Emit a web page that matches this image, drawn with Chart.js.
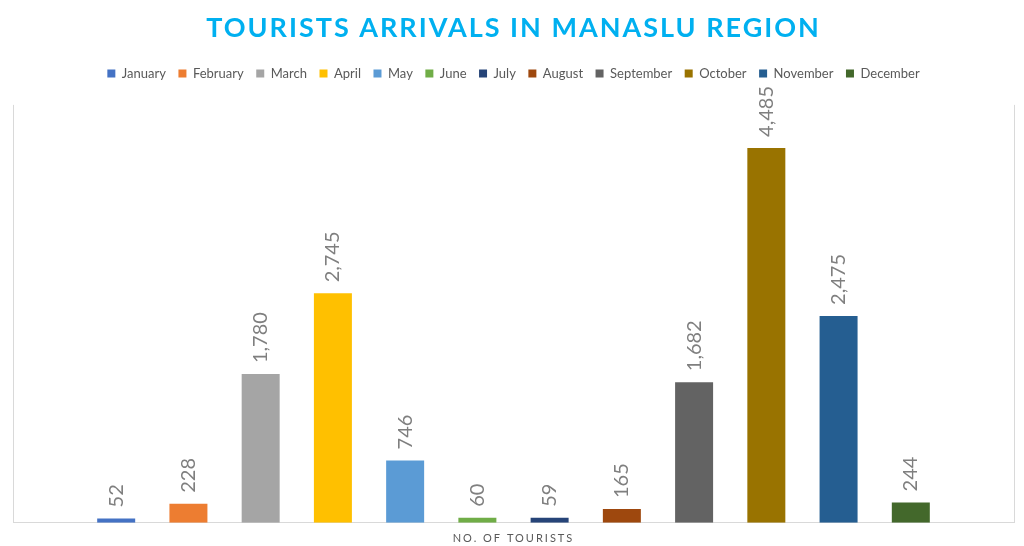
<!DOCTYPE html>
<html>
<head>
<meta charset="utf-8">
<script src="https://cdn.jsdelivr.net/npm/chart.js@4.4.1/dist/chart.umd.min.js"></script>
<style>
html,body{margin:0;padding:0;background:#fff;}
#wrap{width:1024px;height:546px;position:relative;}
</style>
</head>
<body>
<div id="wrap"><canvas id="c" width="1024" height="546"></canvas></div>
<script>
const categories = ["NO. OF TOURISTS"];
const months = ["January","February","March","April","May","June","July","August","September","October","November","December"];
const tourists = [52, 228, 1780, 2745, 746, 60, 59, 165, 1682, 4485, 2475, 244];
const colors = ["#4472C4","#ED7D31","#A5A5A5","#FFC000","#5B9BD5","#70AD47","#264478","#9E480E","#636363","#997300","#255E91","#43682B"];
const titleText = "TOURISTS ARRIVALS IN MANASLU REGION";

const FONT = "Lato, 'Open Sans', sans-serif";

const datasets = months.map((m, i) => ({
  label: m,
  data: [tourists[i]],
  backgroundColor: colors[i],
  borderWidth: 0
}));

const spacingPlugin = {
  id: 'spacing',
  beforeLayout(chart) {
    const lg = chart.legend;
    if (lg && !lg._patched) {
      const origFit = lg.fit.bind(lg);
      lg.fit = function() {
        origFit();
        this.height += 15;
        this.minSize && (this.minSize.height = this.height);
      };
      lg._patched = true;
    }
    const t = chart.titleBlock;
    if (t && !t._patched) {
      const origT = t.draw.bind(t);
      t.draw = function() {
        const ctx = chart.ctx;
        ctx.save();
        ctx.letterSpacing = '2px';
        origT();
        ctx.restore();
      };
      t._patched = true;
    }
  },
  afterLayout(chart) {
    const x = chart.scales.x;
    if (!x._patched) {
      const orig = x.drawLabels.bind(x);
      x.drawLabels = function(area) {
        const ctx = chart.ctx;
        ctx.save();
        ctx.letterSpacing = '2px';
        orig(area);
        ctx.restore();
      };
      x._patched = true;
    }
  }
};

const labelPlugin = {
  id: 'barLabels',
  afterDatasetsDraw(chart) {
    const ctx = chart.ctx;
    ctx.save();
    ctx.font = "20px " + FONT;
    ctx.fillStyle = "#7F7F7F";
    ctx.textAlign = "left";
    ctx.textBaseline = "middle";
    chart.data.datasets.forEach((ds, i) => {
      const meta = chart.getDatasetMeta(i);
      meta.data.forEach((el, j) => {
        const v = ds.data[j];
        ctx.save();
        ctx.translate(el.x, el.y - 11);
        ctx.rotate(-Math.PI / 2);
        ctx.fillText(v.toLocaleString('en-US'), 0, 0);
        ctx.restore();
      });
    });
    ctx.restore();
  }
};

new Chart(document.getElementById('c'), {
  type: 'bar',
  data: { labels: categories, datasets: datasets },
  plugins: [spacingPlugin, labelPlugin],
  options: {
    responsive: false,
    animation: false,
    layout: { padding: { left: 13, right: 10, top: 12, bottom: -8 } },
    datasets: { bar: { categoryPercentage: 0.866, barPercentage: 0.526 } },
    plugins: {
      tooltip: { enabled: false },
      title: {
        display: true,
        text: titleText,
        color: "#00B0F0",
        font: { family: FONT, size: 27, weight: 'bold' },
        padding: { top: 0, bottom: 10 }
      },
      legend: {
        position: 'top',
        labels: {
          color: "#595959",
          font: { family: FONT, size: 13 },
          boxWidth: 8,
          boxHeight: 8,
          padding: 12.5
        }
      }
    },
    scales: {
      x: {
        grid: { display: true, color: "#D9D9D9", drawTicks: false, offset: true },
        border: { display: true, color: "#D9D9D9" },
        ticks: { color: "#595959", font: { family: FONT, size: 11 }, padding: 9 }
      },
      y: {
        display: false,
        min: 0,
        max: 5000
      }
    }
  }
});
</script>
</body>
</html>
